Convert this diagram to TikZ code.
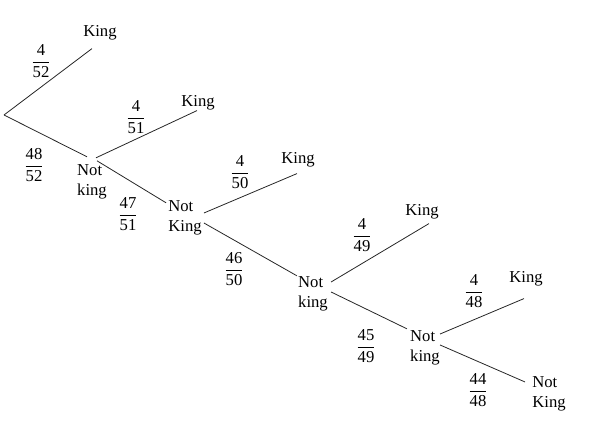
\documentclass[tikz,border=0pt]{standalone}
\usepackage{amsmath}
\usepackage{fontspec}
\setmainfont{Liberation Serif}
\usetikzlibrary{calc}

\begin{document}
\begin{tikzpicture}[x=0.75pt,y=-0.75pt]
    \tikzset{outcome/.style={font=\fontsize{12.5}{14.5}\selectfont, inner sep=0pt, align=left},
      prob/.style={font=\fontsize{12.5}{14.5}\selectfont, inner sep=0pt},
      branch/.style={draw=black!85, line width=0.6pt}
    }
    \useasboundingbox (0,0) rectangle (590,427);

    \coordinate (root) at (4,115);

    \node[outcome] (K1) at (100,33) {King};
    \node[outcome] (NK1) at (92,182) {Not\\king};
    \node[outcome] (K2) at (198,103) {King};
    \node[outcome] (NK2) at (185,218) {Not\\King};
    \node[outcome] (K3) at (298,160) {King};
    \node[outcome] (NK3) at (313,294) {Not\\king};
    \node[outcome] (K4) at (422,212) {King};
    \node[outcome] (NK4) at (425,348) {Not\\king};
    \node[outcome] (K5) at (526,279) {King};
    \node[outcome] (NK5) at (549,394) {Not\\King};

    \node[prob] (P1) at (41,61) {$\dfrac{\mbox{4}}{\mbox{52}}$};
    \node[prob] (P2) at (34,165) {$\dfrac{\mbox{48}}{\mbox{52}}$};
    \node[prob] (P3) at (136,117) {$\dfrac{\mbox{4}}{\mbox{51}}$};
    \node[prob] (P4) at (128,214) {$\dfrac{\mbox{47}}{\mbox{51}}$};
    \node[prob] (P5) at (240,172) {$\dfrac{\mbox{4}}{\mbox{50}}$};
    \node[prob] (P6) at (234,269) {$\dfrac{\mbox{46}}{\mbox{50}}$};
    \node[prob] (P7) at (362,235) {$\dfrac{\mbox{4}}{\mbox{49}}$};
    \node[prob] (P8) at (366,346) {$\dfrac{\mbox{45}}{\mbox{49}}$};
    \node[prob] (P9) at (474,291) {$\dfrac{\mbox{4}}{\mbox{48}}$};
    \node[prob] (P10) at (478,390) {$\dfrac{\mbox{44}}{\mbox{48}}$};

    \draw[branch] (root) -- ($(K1.south)+(-8,8)$);
    \draw[branch] (root) -- ($(NK1.north)+(-5,-8)$);
    \draw[branch] ($(NK1.north)+(4,-7)$) -- ($(K2.south)+(-1,0)$);
    \draw[branch] ($(NK1.north)+(5,-4)$) -- ($(NK2.north west)+(-2,2)$);
    \draw[branch] ($(NK2.east)+(2,-5)$) -- ($(K3.south)+(-1,6)$);
    \draw[branch] ($(NK2.east)+(2,5)$) -- ($(NK3.north west)+(-1,-1)$);
    \draw[branch] ($(NK3.east)+(3,-12)$) -- ($(K4.south)+(7,4)$);
    \draw[branch] ($(NK3.east)+(3,-2)$) -- ($(NK4.north west)+(-3,-2)$);
    \draw[branch] ($(NK4.east)+(0,-14)$) -- ($(K5.south)+(-2,12)$);
    \draw[branch] ($(NK4.east)+(0,-3)$) -- ($(NK5.west)+(-7,-12)$);
\end{tikzpicture}
\end{document}
